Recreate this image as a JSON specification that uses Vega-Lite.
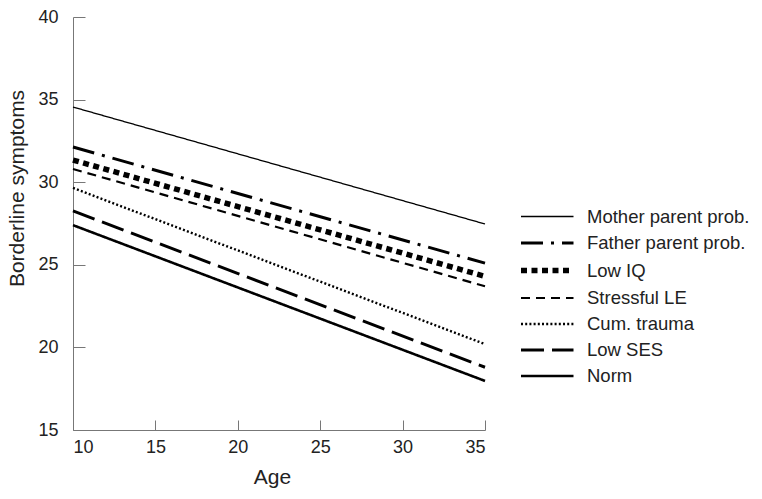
{
  "$schema": "https://vega.github.io/schema/vega-lite/v6.json",
  "autosize": {"type": "none"},
  "width": 412,
  "height": 413,
  "padding": {"left": 73, "top": 17, "right": 277, "bottom": 69},
  "background": "white",
  "config": {
    "font": "Liberation Sans",
    "view": {"stroke": null},
    "axis": {"grid": false, "domainColor": "#777", "tickColor": "#777", "labelColor": "#222", "titleColor": "#222", "labelFontSize": 18, "titleFontSize": 21, "titleFontWeight": "normal", "labelFont": "Liberation Sans", "titleFont": "Liberation Sans"},
    "legend": {"labelFont": "Liberation Sans", "labelFontSize": 18.5, "labelColor": "#222", "labelLimit": 0}
  },
  "data": {"values": [
    {"group": "Mother parent prob.", "age": 10, "y": 34.55},
    {"group": "Mother parent prob.", "age": 35, "y": 27.47},
    {"group": "Father parent prob.", "age": 10, "y": 32.13},
    {"group": "Father parent prob.", "age": 35, "y": 25.1},
    {"group": "Low IQ", "age": 10, "y": 31.34},
    {"group": "Low IQ", "age": 35, "y": 24.3},
    {"group": "Stressful LE", "age": 10, "y": 30.8},
    {"group": "Stressful LE", "age": 35, "y": 23.7},
    {"group": "Cum. trauma", "age": 10, "y": 29.65},
    {"group": "Cum. trauma", "age": 35, "y": 20.2},
    {"group": "Low SES", "age": 10, "y": 28.26},
    {"group": "Low SES", "age": 35, "y": 18.8},
    {"group": "Norm", "age": 10, "y": 27.4},
    {"group": "Norm", "age": 35, "y": 17.97}
  ]},
  "mark": {"type": "line", "color": "black", "strokeCap": "butt"},
  "encoding": {
    "x": {"field": "age", "type": "quantitative", "scale": {"domain": [10, 35], "nice": false}, "axis": {"title": "Age", "values": [10, 15, 20, 25, 30, 35], "tickSize": -10, "labelPadding": 18, "titlePadding": 10, "titleX": 199}},
    "y": {"field": "y", "type": "quantitative", "scale": {"domain": [15, 40], "nice": false, "zero": false}, "axis": {"title": "Borderline symptoms", "values": [15, 20, 25, 30, 35, 40], "tickSize": -12, "labelPadding": 27, "titlePadding": 10, "titleY": 171}},
    "strokeDash": {"field": "group", "type": "nominal", "scale": {"domain": ["Mother parent prob.", "Father parent prob.", "Low IQ", "Stressful LE", "Cum. trauma", "Low SES", "Norm"], "range": [[1, 0], [22, 8, 3, 8], [6, 4.5], [9, 6], [2, 2.2], [23, 8], [1, 0]]}, "legend": {"title": null, "orient": "none", "legendX": 445, "legendY": 183.5, "symbolType": "M-1,0H2.5", "symbolSize": 900, "labelOffset": 33, "rowPadding": 0}},
    "strokeWidth": {"field": "group", "type": "nominal", "scale": {"type": "ordinal", "domain": ["Mother parent prob.", "Father parent prob.", "Low IQ", "Stressful LE", "Cum. trauma", "Low SES", "Norm"], "range": [1.3, 3, 5.5, 2.2, 2.4, 3, 2.6]}, "legend": {"title": null, "orient": "none", "legendX": 445, "legendY": 183.5, "symbolType": "M-1,0H2.5", "symbolSize": 900, "labelOffset": 33, "rowPadding": 0}}
  }
}
